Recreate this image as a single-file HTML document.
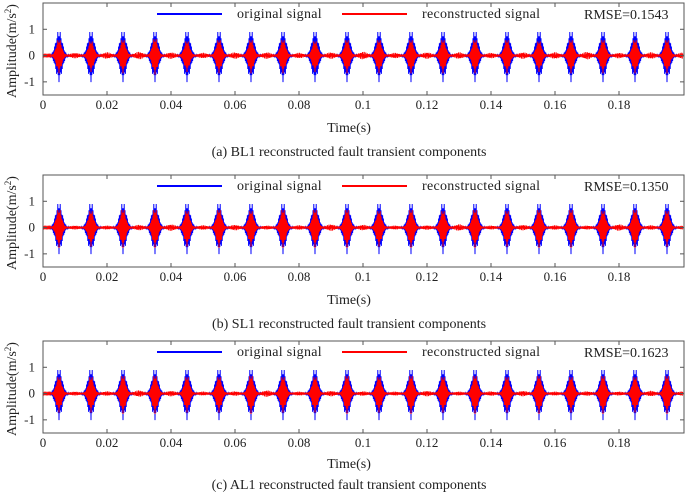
<!DOCTYPE html>
<html><head><meta charset="utf-8"><style>
html,body{margin:0;padding:0;background:#fff;}
svg{display:block;font-family:"Liberation Serif",serif;}
</style></head><body>
<svg id="chart" width="685" height="492" viewBox="0 0 685 492"></svg>
<script>
// ---- data ----
const burstTimes = [0.005,0.015,0.025,0.035,0.045,0.055,0.065,0.075,0.085,0.095,0.105,0.115,0.125,0.135,0.145,0.155,0.165,0.175,0.185,0.195];
const blueAmps = [1.0,1.0,1.0,1.0,1.0,1.0,1.0,1.0,1.0,1.0,1.0,1.0,1.0,1.0,1.0,1.0,1.0,1.0,1.0,1.0];
const redAmpsA = [0.65,0.6,0.65,0.7,0.6,0.65,0.65,0.65,0.6,0.65,0.65,0.65,0.65,0.65,0.65,0.6,0.65,0.65,0.65,0.65];
const redAmpsB = [0.75,0.7,0.75,0.75,0.7,0.75,0.7,0.75,0.75,0.75,0.7,0.75,0.7,0.75,0.7,0.75,0.75,0.7,0.75,0.7];
const redAmpsC = [0.7,0.7,0.75,0.75,0.7,0.7,0.75,0.7,0.7,0.75,0.7,0.75,0.7,0.75,0.7,0.75,0.7,0.75,0.7,0.75];
const noiseA = [0.08,0.1,0.12,0.1,0.08,0.1,0.1,0.08,0.1,0.12,0.08,0.1,0.1,0.08,0.1,0.1,0.12,0.08,0.1,0.1];
const noiseB = [0.05,0.05,0.08,0.1,0.06,0.08,0.05,0.06,0.1,0.08,0.05,0.06,0.1,0.05,0.08,0.06,0.05,0.1,0.06,0.05];
const noiseC = [0.05,0.06,0.1,0.08,0.05,0.06,0.1,0.05,0.08,0.06,0.05,0.08,0.05,0.06,0.08,0.05,0.06,0.05,0.08,0.06];
const xTicks = [0,0.02,0.04,0.06,0.08,0.1,0.12,0.14,0.16,0.18];
const xTickLabels = ["0","0.02","0.04","0.06","0.08","0.1","0.12","0.14","0.16","0.18"];
const yTicks = [1,0,-1];
const yTickLabels = ["1","0","-1"];
const rmseLabels = ["RMSE=0.1543","RMSE=0.1350","RMSE=0.1623"];
const captions = ["(a) BL1 reconstructed fault transient components","(b) SL1 reconstructed fault transient components","(c) AL1  reconstructed fault transient components"];
const panelTops = [3,175,341];
const redSets = [redAmpsA,redAmpsB,redAmpsC];
const noiseSets = [noiseA,noiseB,noiseC];

const NS="http://www.w3.org/2000/svg";
const svg=document.getElementById('chart');
function mk(tag,attrs,parent){const e=document.createElementNS(NS,tag);for(const k in attrs)e.setAttribute(k,attrs[k]);(parent||svg).appendChild(e);return e;}
const X0=43,X1=683,H=92,YMIN=-1.5,YMAX=2.0;
const xs=t=>X0+(t/0.2)*(X1-X0);

function envelope(t,amps,noise,isRed){
  let v=isRed?0.025:0.01;
  for(let i=0;i<burstTimes.length;i++){
    const d=t-burstTimes[i];
    const s=isRed?0.0008:0.001;
    const jag=1-0.3*Math.abs(Math.sin(2*Math.PI*1400*d));
    v+=amps[i]*jag*Math.exp(-(d*d)/(2*s*s));
    if(isRed){
      const m=t-(burstTimes[i]+0.005);
      v+=noise[i]*Math.exp(-(m*m)/(2*0.0012*0.0012))*Math.abs(Math.sin(2*Math.PI*900*t+i));
    }
  }
  return v;
}

panelTops.forEach((top,p)=>{
  const g=mk('g',{});
  
  
  const ys=v=>top+(YMAX-v)/(YMAX-YMIN)*H;
  [['blue','#0000ff',blueAmps,false],['red','#ff0000',redSets[p],true]].forEach(([nm,col,amps,isRed])=>{
    let d='';let k=0;
    for(let px=X0;px<=X1;px+=0.4,k++){
      const t=(px-X0)/(X1-X0)*0.2;
      const e=envelope(t,amps,noiseSets[p],isRed);
      const v=(k%2?1:-1)*e;
      d+=(d?'L':'M')+px.toFixed(2)+','+ys(v).toFixed(2);
    }
    const path=mk('path',{d:d,fill:'none',stroke:col,'stroke-width':1},g);
    
    
  });
  const fr=mk('rect',{x:X0,y:top,width:X1-X0+1,height:H,fill:'none',stroke:'#555','stroke-width':1},g);
  
  
  xTicks.forEach((t,i)=>{
    const x=xs(t);
    mk('line',{x1:x,x2:x,y1:top+H,y2:top+H-4,stroke:'#555'},g);
    mk('line',{x1:x,x2:x,y1:top,y2:top+4,stroke:'#555'},g);
    const tx=mk('text',{x:x,y:top+H+14,'text-anchor':'middle','font-size':13,fill:'#222'},g);
    tx.textContent=xTickLabels[i];
    
    
  });
  yTicks.forEach((v,i)=>{
    const y=ys(v);
    mk('line',{x1:X0,x2:X0+4,y1:y,y2:y,stroke:'#555'},g);
    mk('line',{x1:X1+1,x2:X1-3,y1:y,y2:y,stroke:'#555'},g);
    const tx=mk('text',{x:X0-8,y:y+4,'text-anchor':'end','font-size':13,fill:'#222'},g);
    tx.textContent=yTickLabels[i];
    
    
  });
  const cy=top+H/2+2;
  const yl=mk('text',{x:0,y:0,transform:`translate(16,${cy}) rotate(-90)`,'text-anchor':'middle','font-size':14,fill:'#222'},g);
  yl.innerHTML='Amplitude(m/s<tspan dy="-5" font-size="9">2</tspan><tspan dy="5">)</tspan>';
  
  
  const ly=top+11;
  const lg=mk('g',{},g);
  
  
  mk('line',{x1:157,x2:222,y1:ly,y2:ly,stroke:'#0000ff','stroke-width':2},lg);
  const t1=mk('text',{x:237,y:ly+4,'font-size':14,'letter-spacing':0.3,fill:'#222'},lg);t1.textContent='original signal';
  
  
  mk('line',{x1:342,x2:407,y1:ly,y2:ly,stroke:'#ff0000','stroke-width':2},lg);
  const t2=mk('text',{x:422,y:ly+4,'font-size':14,'letter-spacing':0.3,fill:'#222'},lg);t2.textContent='reconstructed signal';
  
  
  const rm=mk('text',{x:584,y:ly+5,'font-size':14,fill:'#222'},g);rm.textContent=rmseLabels[p];
  
  
  const last=(p===2);
  const xt=mk('text',{x:349,y:top+H+(last?35:37),'text-anchor':'middle','font-size':14,fill:'#222'},g);xt.textContent='Time(s)';
  
  
  const cp=mk('text',{x:349,y:top+H+(last?56:61),'text-anchor':'middle','font-size':14,fill:'#222'},g);cp.textContent=captions[p];
  
  
});
</script>
</body></html>
